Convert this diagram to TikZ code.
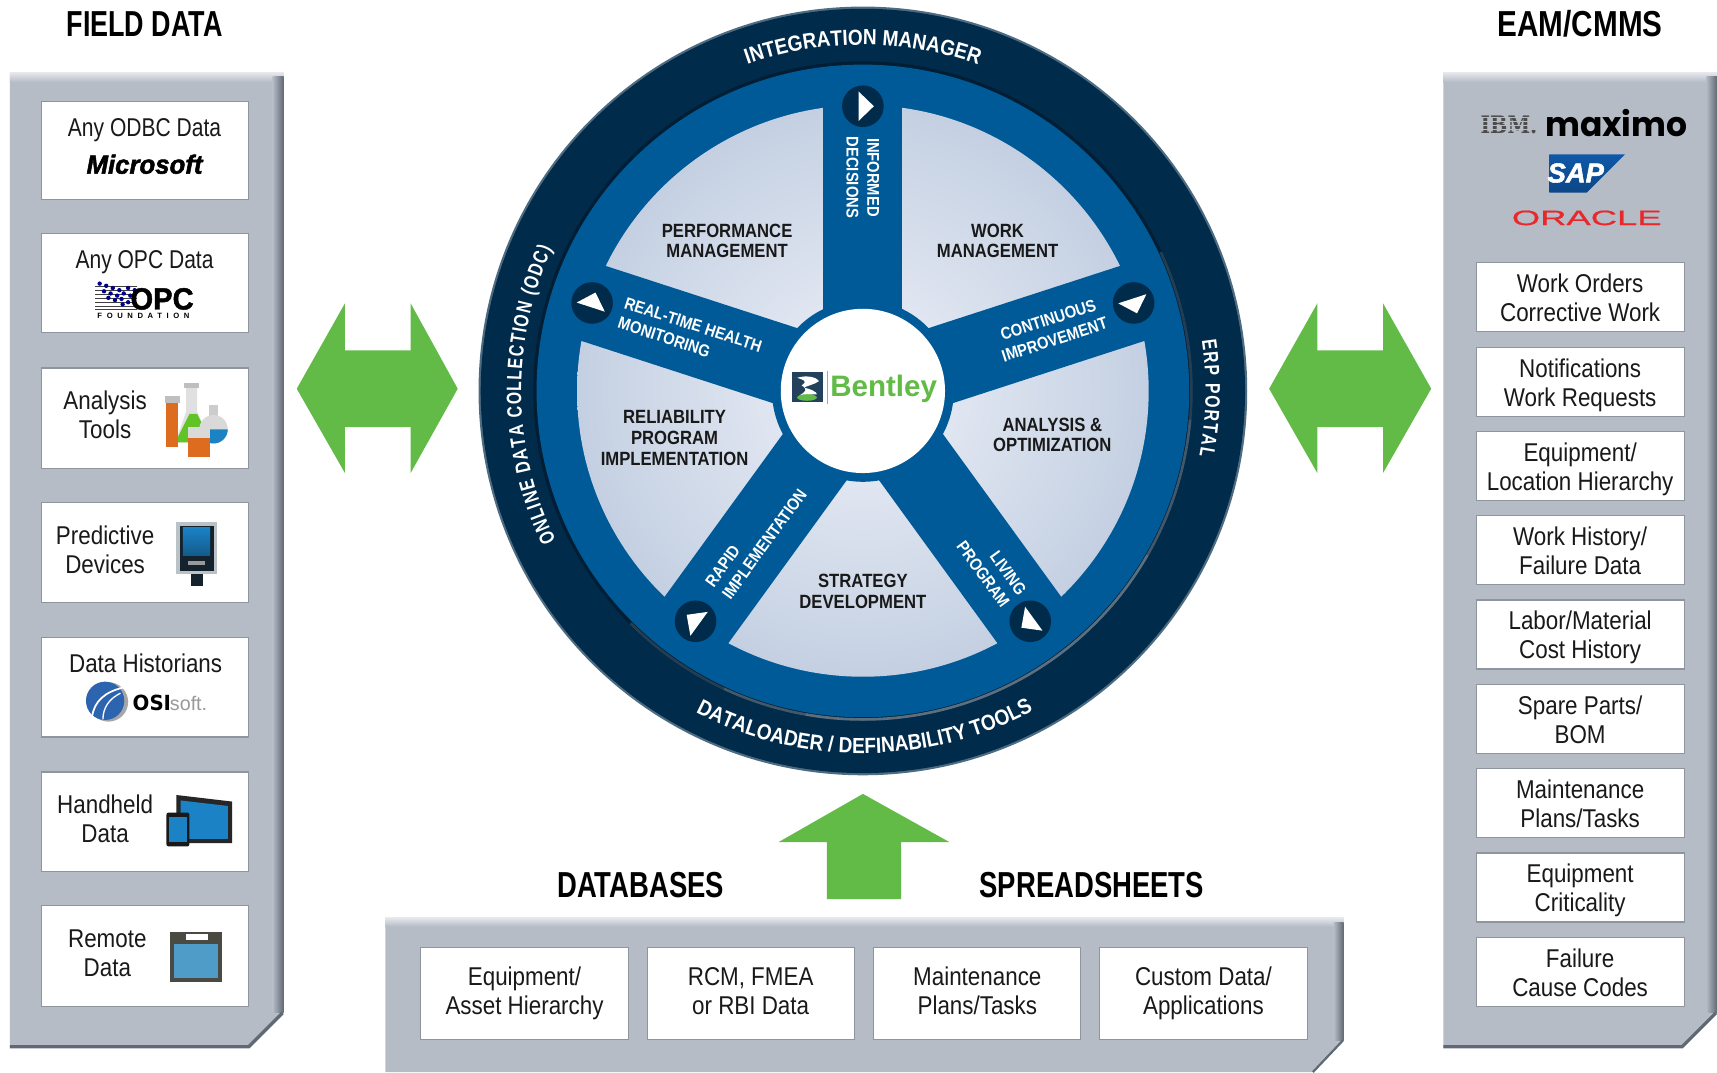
\documentclass[tikz,border=0pt]{standalone}
\usepackage{fontspec}
\usetikzlibrary{decorations.text}
\setmainfont{Liberation Sans}
\newfontfamily\cond[FakeStretch=0.87]{Liberation Sans}
\newfontfamily\condb[FakeStretch=0.76]{Liberation Sans}
\newfontfamily\condm[FakeStretch=0.87]{Liberation Sans}
\newfontfamily\wide[FakeStretch=1.75,FakeBold=0.8]{Liberation Sans}
\newfontfamily\opcfoot[LetterSpace=60]{Liberation Sans}
\newfontfamily\msf[BoldItalicFeatures={FakeBold=2},BoldFeatures={FakeBold=1.5}]{Liberation Sans}
\newfontfamily\djsans{DejaVu Sans}
\newfontfamily\djserif{DejaVu Serif}
\newfontfamily\popf{Poppins}
\newcommand\fs[2]{\fontsize{#1}{#2}\selectfont}
\definecolor{panel}{HTML}{B6BCC6}
\definecolor{paneld}{HTML}{5F6873}
\definecolor{panell}{HTML}{E6E8EC}
\definecolor{wbline}{HTML}{8E959E}
\definecolor{ringc}{HTML}{012B4B}
\definecolor{spoke}{HTML}{005A97}
\definecolor{arrowg}{HTML}{62BB46}
\definecolor{secin}{HTML}{EDF0F8}
\definecolor{secout}{HTML}{C4D0E2}
\definecolor{ioranGe}{HTML}{DD6B20}
\definecolor{iblue}{HTML}{1B82C6}
\definecolor{idark}{HTML}{14222E}
\definecolor{osib}{HTML}{2C64B0}
\definecolor{sapb}{HTML}{0F58A8}
\definecolor{orared}{HTML}{E8282A}
\definecolor{bnavy}{HTML}{23415C}
\definecolor{rmtframe}{HTML}{4A4A42}
\definecolor{rmtscreen}{HTML}{4F9CC8}
\tikzset{
  wb/.style={draw=wbline,line width=1.1pt,fill=white},
  boxt/.style={font=\cond\fs{23.5}{26.5},align=center,inner sep=0pt,text=black!90,yshift=-3pt,
     execute at begin node=\strut,execute at end node=\strut},
  titlet/.style={font=\condb\bfseries\fs{33}{36},inner sep=0pt,text=black},
  sect/.style={font=\condm\bfseries\fs{17.5}{19.5},align=center,inner sep=0pt,text=black!90},
  spt/.style={font=\condm\bfseries\fs{15.5}{19},inner sep=0pt,text=white},
  greena/.style={fill=arrowg},
}
\newcommand\rbox[4]{\draw[wb] (1348,#1) rectangle (1538,#2);
 \pgfmathsetmacro\my{(#1+#2)/2+1.5}
 \node[boxt] (#3) at (1443,\my) {#4};}
\newcommand\bbox[4]{\draw[wb] (#1,865) rectangle (#2,949);
 \pgfmathsetmacro\mx{(#1+#2)/2}
 \node[boxt] (#3) at (\mx,906) {#4};}
\begin{document}
\begin{tikzpicture}[x=1pt,y=-1pt]
\useasboundingbox (0,0) rectangle (1568,979);
% ---------- left panel
\fill[panel] (9,66) -- (259,66) -- (259,925) -- (227,957) -- (9,957) -- cycle;
\shade[top color=panell,bottom color=panel] (9,66) rectangle (259,75);
\shade[left color=panel,right color=paneld] (249,70) rectangle (259,925);
\draw[paneld,line width=3pt] (9,956) -- (227,956) -- (258,925);
% boxes left
\foreach \a/\b in {93/182,213/304,336/428,459/550,582/673,705/796,827/919}
  \draw[wb] (38,\a) rectangle (227,\b);
\node[titlet,xscale=.98] (tfield) at (132,22) {FIELD DATA};
\node[boxt,xscale=.94] (l1) at (132,116) {Any ODBC Data};
\node[font=\msf\fs{24}{24}\bfseries\itshape,inner sep=0,xscale=.98] (ms) at (132,150) {Microsoft};
\node[boxt,xscale=.94] (l2) at (132,237) {Any OPC Data};
\node[boxt] (l3) at (96,380) {Analysis\\Tools};
\node[boxt] (l4) at (96,503) {Predictive\\Devices};
\node[boxt] (l5) at (133,606) {Data Historians};
\node[boxt] (l6) at (96,749) {Handheld\\Data};
\node[boxt] (l7) at (98,871) {Remote\\Data};
% OPC logo
\foreach \y in {262,265.5,269,272.5,276,279.5,283}
  \draw[black!75,line width=1pt] (87,\y) -- (125,\y);
\foreach \p in {(91,259),(97,261),(103,263),(109,265),(95,266),(101,268),(107,270),(113,268),(99,272),(105,274),(111,273),(117,263),(119,270),(123,265),(112,278),(117,276)}
  \fill[blue!55!black] \p circle (2);
\node[font=\msf\bfseries\fs{28}{28},inner sep=0,xscale=.95] (opc) at (148,273) {OPC};
\node[font=\opcfoot\bfseries\fs{7}{7},inner sep=0] (opcf) at (131,288) {FOUNDATION};
% flasks
\fill[black!12] (170,352) -- (180,352) -- (180,376) -- (193,404) -- (160,404) -- (170,376) -- cycle;
\fill[green!45!olive!85] (173,378) -- (180,378) -- (193,404) -- (160,404) -- cycle;
\fill[black!25] (168,350) rectangle (182,354);
\fill[black!25] (151,362) rectangle (164,368);
\fill[ioranGe] (152,368) rectangle (163,408);
\fill[black!20] (191,370) rectangle (199,382);
\fill[black!15] (195,392) circle (13);
\fill[iblue] (182,392) arc (180:0:13) -- cycle;
\fill[black!15] (172,390) rectangle (192,400);
\fill[ioranGe] (172,400) rectangle (192,417);
% device
\fill[black!25!cyan!15!gray!55] (161,477) rectangle (198,524);
\fill[idark] (164,480) rectangle (195,521);
\shade[top color=iblue,bottom color=iblue!70!black] (167,482) rectangle (192,507);
\fill[black!40] (172,512) rectangle (187,516);
\fill[idark] (174,524) rectangle (185,535);
% OSIsoft
\fill[black!35] (99,641) circle (18);
\fill[osib] (96,640) circle (17.5);
\draw[white,line width=1.6pt] (112,628) .. controls (96,632) and (86,640) .. (84,655);
\draw[white,line width=1.2pt] (110,633) .. controls (100,638) and (94,646) .. (94,657);
\node[font=\djsans\bfseries\fs{19}{19},inner sep=0,anchor=west,xscale=.95] (osi) at (121,642) {OSI};
\node[font=\fs{18}{18},inner sep=0,anchor=west,text=black!40] (soft) at (155,642) {soft.};
% handheld
\fill[black!85] (161,726) -- (212,732) -- (212,770) -- (161,770) -- cycle;
\fill[iblue] (165,731) -- (208,736) -- (208,766) -- (165,766) -- cycle;
\fill[black!90,rounded corners=2pt] (152,742) rectangle (173,773);
\fill[iblue] (154,746) rectangle (171,769);
% remote
\fill[rmtframe] (155,851) rectangle (203,897);
\fill[rmtscreen] (159,862) rectangle (199,893);
\fill[white] (170,853) rectangle (190,858);
% ---------- right panel
\fill[panel] (1318,66) -- (1568,66) -- (1568,925) -- (1536,957) -- (1318,957) -- cycle;
\shade[top color=panell,bottom color=panel] (1318,66) rectangle (1568,75);
\shade[left color=panel,right color=paneld] (1558,70) rectangle (1568,925);
\draw[paneld,line width=3pt] (1318,956) -- (1536,956) -- (1567,925);
\node[titlet,xscale=1.08] (team) at (1443,22) {EAM/CMMS};
\node[font=\djserif\bfseries\fs{22}{22},inner sep=0,text=black!70,xscale=.85] (ibm) at (1378,114) {IBM.};
\foreach \y in {107.5,111,114.5,118} \draw[panel,line width=.9pt] (1352,\y) -- (1404,\y);
\node[font=\popf\bfseries\fs{31}{31},inner sep=0,xscale=.97] (maximo) at (1476,112) {maximo};
\shade[top color=sapb,bottom color=sapb!80!black] (1415,141) -- (1484,141) -- (1449,176) -- (1415,176) -- cycle;
\node[font=\msf\bfseries\itshape\fs{25}{25},inner sep=0,text=white] (sap) at (1439,158) {SAP};
\node[font=\wide\fs{19}{19},inner sep=0,text=orared] (oracle) at (1449,199) {ORACLE};
\rbox{240}{303}{r1}{Work Orders\\Corrective Work}
\rbox{317}{380}{r2}{Notifications\\Work Requests}
\rbox{394}{457}{r3}{Equipment/\\Location Hierarchy}
\rbox{471}{534}{r4}{Work History/\\Failure Data}
\rbox{548}{611}{r5}{Labor/Material\\Cost History}
\rbox{625}{688}{r6}{Spare Parts/\\BOM}
\rbox{702}{765}{r7}{Maintenance\\Plans/Tasks}
\rbox{779}{842}{r8}{Equipment\\Criticality}
\rbox{856}{919}{r9}{Failure\\Cause Codes}
% ---------- bottom panel
\fill[panel] (352,838) -- (1227,838) -- (1227,950) -- (1199,979) -- (352,979) -- cycle;
\shade[top color=panell,bottom color=panel] (352,838) rectangle (1227,846);
\shade[left color=panel,right color=paneld] (1218,842) rectangle (1227,950);
\draw[paneld,line width=2pt] (1226.5,950) -- (1199,979);
\bbox{384}{574}{b1}{Equipment/\\Asset Hierarchy}
\bbox{591}{780}{b2}{RCM, FMEA\\or RBI Data}
\bbox{798}{987}{b3}{Maintenance\\Plans/Tasks}
\bbox{1004}{1194}{b4}{Custom Data/\\Applications}
\node[titlet] (tdb) at (585,808) {DATABASES};
\node[titlet] (tss) at (997,808) {SPREADSHEETS};
% ---------- arrows
\fill[greena] (271,355) -- (315,277) -- (315,320) -- (375,320) -- (375,277) -- (418,355) -- (375,432) -- (375,390) -- (315,390) -- (315,432) -- cycle;
\fill[greena] (1159,355) -- (1203,277) -- (1203,320) -- (1263,320) -- (1263,277) -- (1307,355) -- (1263,432) -- (1263,390) -- (1203,390) -- (1203,432) -- cycle;
\fill[greena] (788,725) -- (867,769) -- (823,769) -- (823,821) -- (755,821) -- (755,769) -- (711,769) -- cycle;
% ---------- wheel
\begin{scope}[shift={(788,357)},y=1pt]
  \fill[ringc!70!white] (0,0) circle (351);
  \fill[ringc] (0,0) circle (349);
  \fill[black!30!ringc] (0,0) circle (301);
  \draw[line width=2.4pt,color=white,opacity=.14] (-135:300) arc (-135:25:300);
  \draw[line width=2.4pt,color=white,opacity=.14] (-115:300) arc (-115:-5:300);
  \draw[line width=2.4pt,color=white,opacity=.14] (-100:300) arc (-100:-30:300);
  \fill[spoke] (0,0) circle (298);
  \shade[inner color=secin,outer color=secout] (0,0) circle (261);
  \foreach \a in {90,18,162,234,306} {
    \fill[spoke,rotate=\a] (0,-36) rectangle (265,36);
  }
  \fill[spoke] (0,0) circle (83);
  \fill[white] (0,0) circle (75);
  \foreach \a in {90,18,162,234,306} {
    \fill[ringc] (\a:260) circle (19);
    \pgfmathsetmacro\rr{\a-90}
    \fill[white,shift={(\a:260)},rotate=\rr] (-4,13.5) -- (10,0) -- (-4,-13.5) -- cycle;
  }
  % ring labels
  \path[decorate,decoration={text along path,text align=fit to path,text color=white,
     text={|\condm\bfseries\fs{20}{20}|INTEGRATION MANAGER}}]
     (109.5:316) arc (109.5:70.5:316);
  \path[decorate,decoration={text along path,text align=fit to path,text color=white,
     text={|\condb\bfseries\fs{19}{19}|ONLINE DATA COLLECTION (ODC)}}]
     (206:312) arc (206:155.5:312);
  \path[decorate,decoration={text along path,text align=fit to path,text color=white,
     text={|\condb\bfseries\fs{19}{19}|ERP PORTAL}}]
     (8.5:313) arc (8.5:-11:313);
  \path[decorate,decoration={text along path,text align=fit to path,text color=white,
     text={|\condm\bfseries\fs{20}{20}|DATALOADER / DEFINABILITY TOOLS}}]
     (242.5:331) arc (242.5:297.5:331);
  % spoke labels
  \node[spt,align=center,rotate=-90] (s1) at (90:195) {INFORMED\\DECISIONS};
  \node[spt,align=left,rotate=-18] (s2) at (162:166) {REAL-TIME HEALTH\\MONITORING};
  \node[spt,align=center,rotate=18] (s3) at (18:181) {CONTINUOUS\\IMPROVEMENT};
  \node[spt,align=left,rotate=54] (s4) at (234:166) {RAPID\\IMPLEMENTATION};
  \node[spt,align=right,rotate=-54] (s5) at (306:200) {LIVING\\PROGRAM};
  % sector labels
  \node[sect] (c1) at (-124,137) {PERFORMANCE\\[-1.5pt]MANAGEMENT};
  \node[sect] (c2) at (123,137) {WORK\\[-1.5pt]MANAGEMENT};
  \node[sect] (c3) at (173,-40) {ANALYSIS \&\\[-1.5pt]OPTIMIZATION};
  \node[sect] (c4) at (0,-183) {STRATEGY\\DEVELOPMENT};
  \node[sect] (c5) at (-172,-43) {RELIABILITY\\PROGRAM\\IMPLEMENTATION};
  % Bentley logo
  \fill[bnavy] (-65,17) rectangle (-36,-10);
  \fill[white] (-60,12) .. controls (-50,15) and (-42,12) .. (-40,9) .. controls (-44,6) and (-50,5) .. (-54,3) .. controls (-48,2) and (-42,-1) .. (-42,-3) -- (-58,-4) .. controls (-52,-1) and (-50,2) .. (-56,5) .. controls (-50,9) and (-54,10) .. (-60,12) -- cycle;
  \fill[arrowg] (-51,-6) ellipse (9 and 3);
  \draw[black!35,line width=.8pt] (-32,18) -- (-32,-12);
  \node[font=\bfseries\fs{27}{27},inner sep=0,text=arrowg,anchor=west,xscale=1] (bent) at (-30,2) {Bentley};
\end{scope}
\end{tikzpicture}
\end{document}
